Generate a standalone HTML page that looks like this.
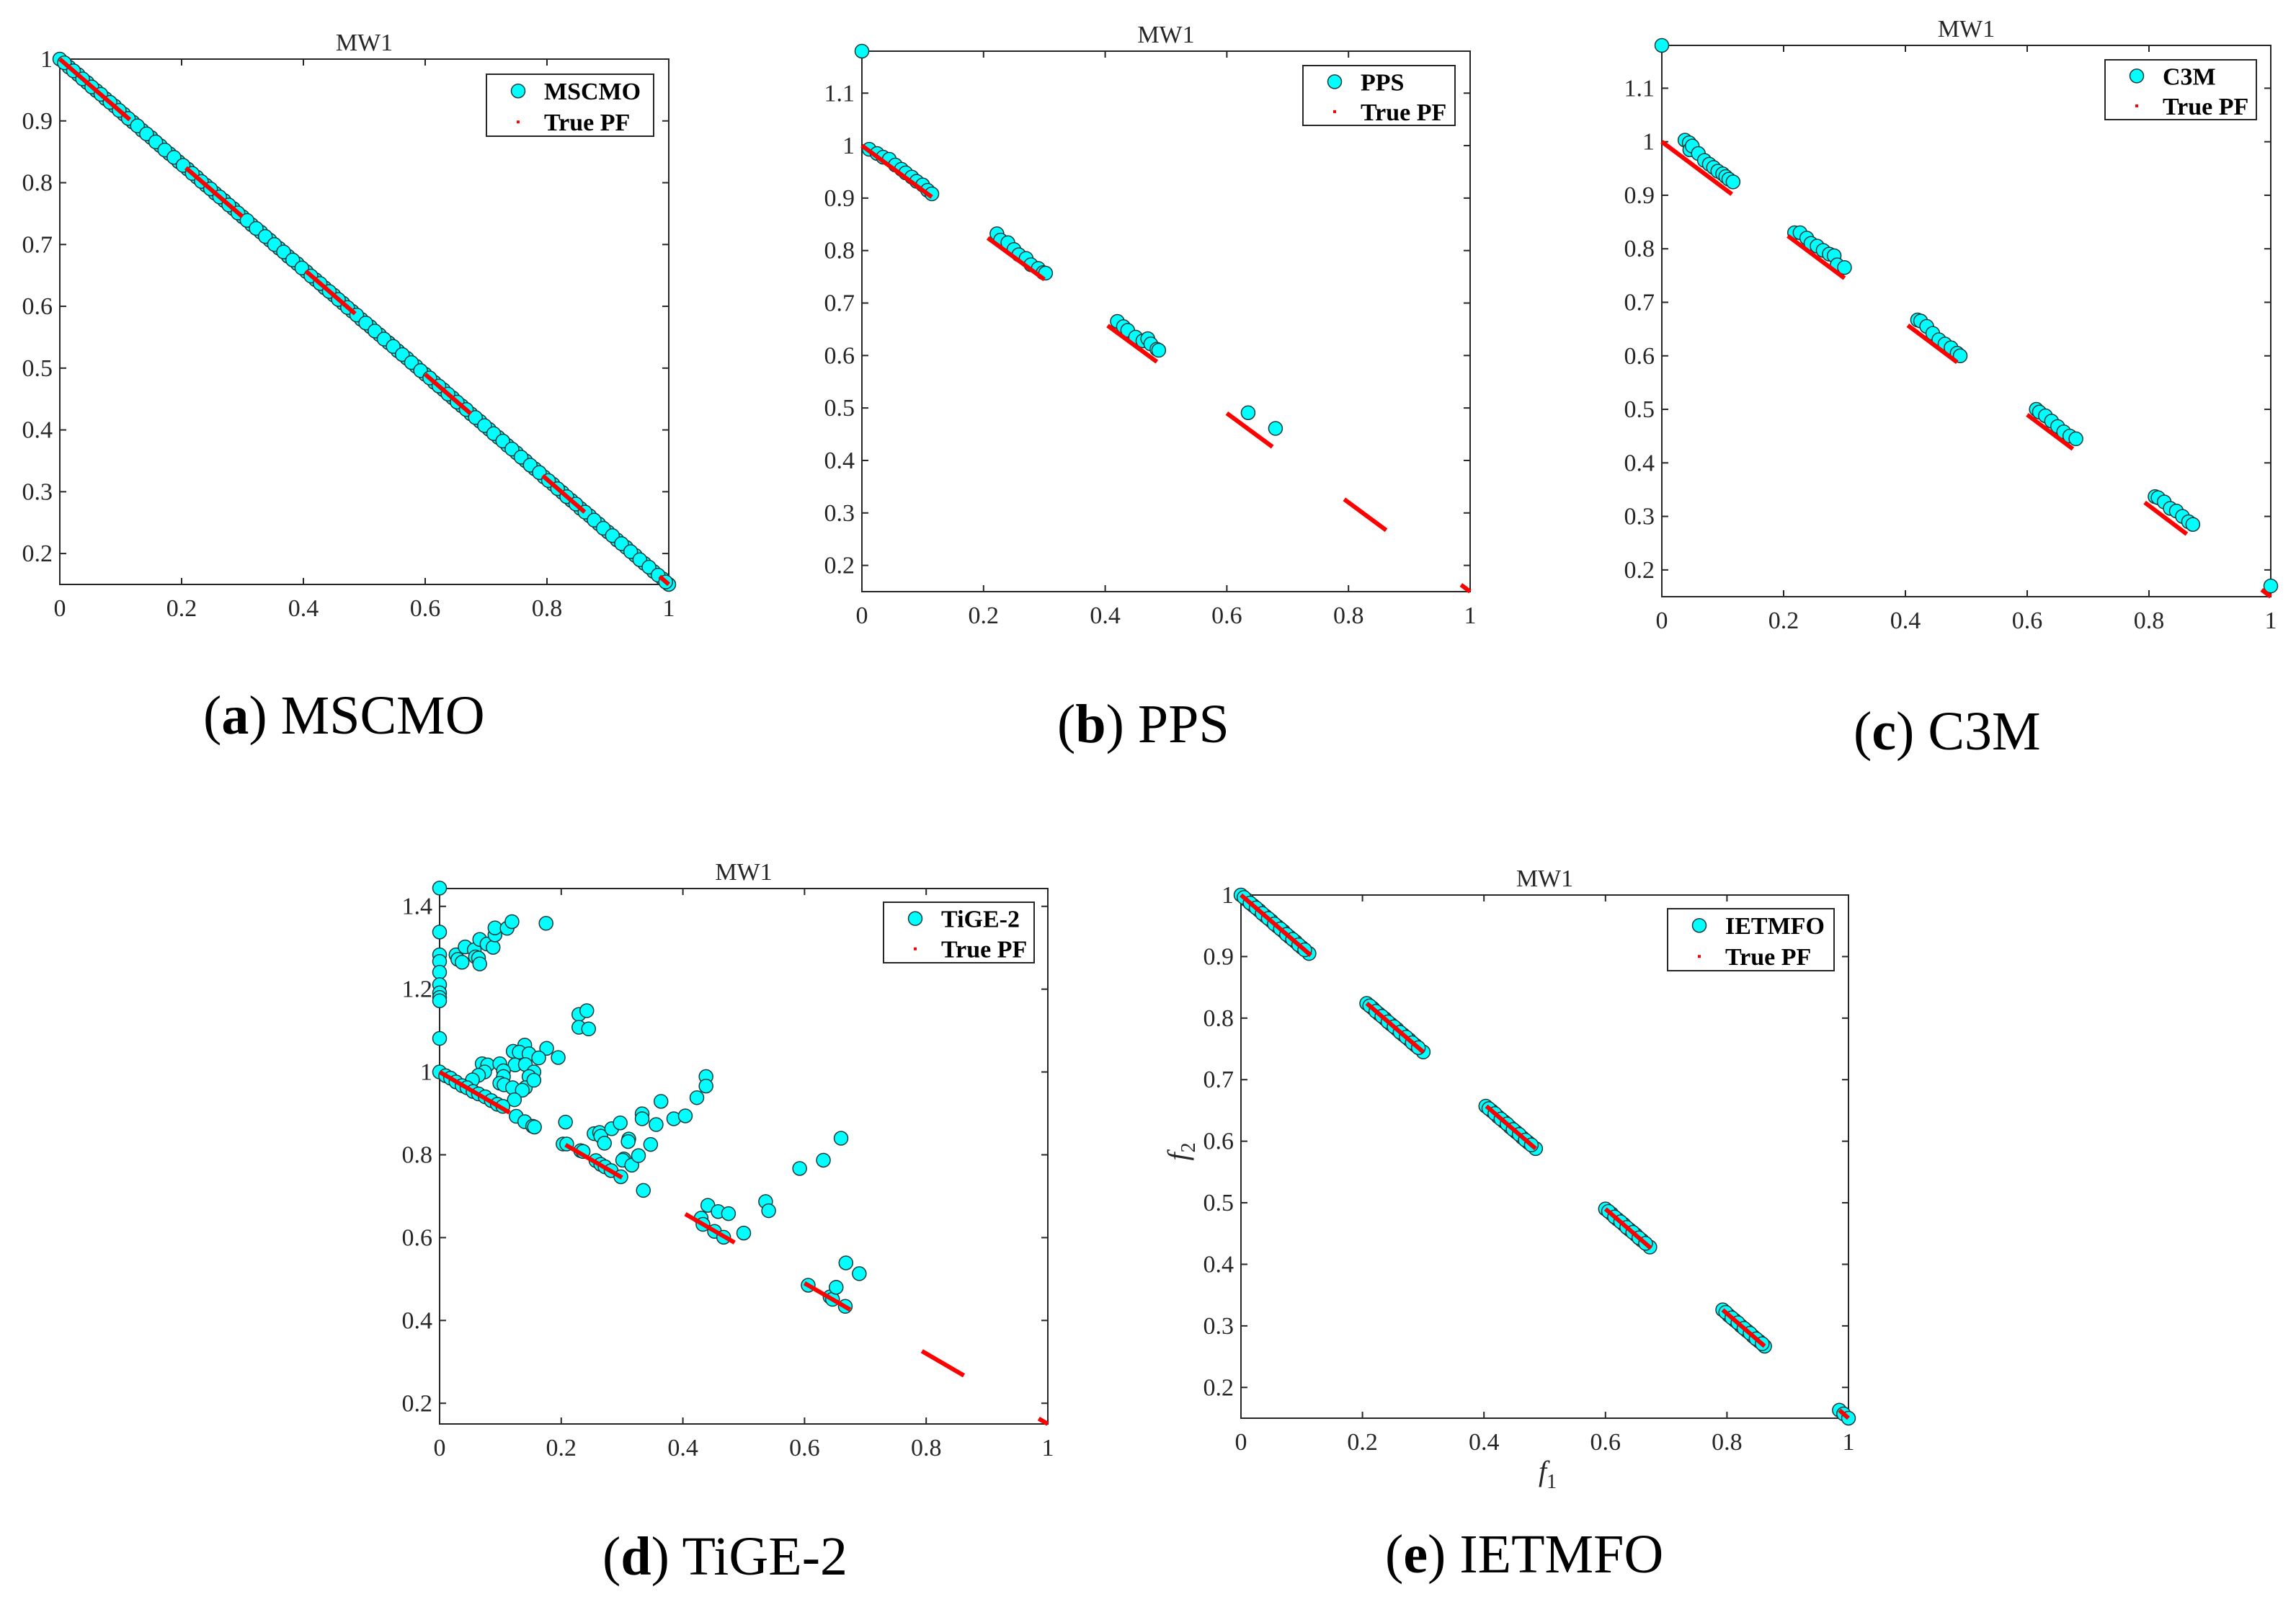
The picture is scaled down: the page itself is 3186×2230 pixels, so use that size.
<!DOCTYPE html>
<html><head><meta charset="utf-8"><style>
html,body{margin:0;padding:0;background:#fff}
svg{display:block}
text{font-family:"Liberation Serif",serif}
</style></head><body>
<svg id="fig" width="3186" height="2230" viewBox="0 0 3186 2230" xmlns="http://www.w3.org/2000/svg">
<rect x="0" y="0" width="3186" height="2230" fill="#fff"/>
<text x="282" y="1018" font-size="76" fill="#000">(<tspan font-weight="bold">a</tspan>) MSCMO</text>
<text x="1467" y="1030" font-size="76" fill="#000">(<tspan font-weight="bold">b</tspan>) PPS</text>
<text x="2572" y="1040" font-size="76" fill="#000">(<tspan font-weight="bold">c</tspan>) C3M</text>
<text x="836" y="2185" font-size="76" fill="#000">(<tspan font-weight="bold">d</tspan>) TiGE-2</text>
<text x="1922" y="2182" font-size="76" fill="#000">(<tspan font-weight="bold">e</tspan>) IETMFO</text>
<text x="2135" y="2055" font-size="40" font-style="italic" fill="#262626">f<tspan font-size="28" font-style="normal" dy="10">1</tspan></text>
<text transform="translate(1648,1598) rotate(-90)" font-size="40" font-style="italic" fill="#262626" text-anchor="middle">f<tspan font-size="28" font-style="normal" dy="10">2</tspan></text>
</svg>
<script>
// True Pareto front segments (f1 start, f1 end, f2 start, f2 end)
const pfX0 = [0, 0.207, 0.404, 0.6, 0.793, 0.985];
const pfX1 = [0.115, 0.3, 0.485, 0.675, 0.862, 1.0];
const pfY0 = [1.0, 0.824, 0.657, 0.49, 0.326, 0.163];
const pfY1 = [0.902, 0.745, 0.588, 0.426, 0.267, 0.15];

const xTicks = [0, 0.2, 0.4, 0.6, 0.8, 1];
const xTickLabels = ["0", "0.2", "0.4", "0.6", "0.8", "1"];
const yTicksA = [0.2, 0.3, 0.4, 0.5, 0.6, 0.7, 0.8, 0.9, 1];
const yTicksB = [0.2, 0.3, 0.4, 0.5, 0.6, 0.7, 0.8, 0.9, 1, 1.1];
const yTicksD = [0.2, 0.4, 0.6, 0.8, 1, 1.2, 1.4];

// (a) MSCMO
const aX = [0,.015,.03,.045,.06,.075,.09,.105,.12,.135,.15,.165,.18,.195,.21,.225,.24,.255,.27,.285,.30,.315,.33,.345,.36,.375,.39,.405,.42,.435,.45,.465,.48,.495,.51,.525,.54,.555,.57,.585,.60,.615,.63,.645,.66,.675,.69,.705,.72,.735,.75,.765,.78,.795,.81,.825,.84,.855,.87,.885,.90,.915,.93,.945,.96,.975,.99,1.0,
.0075,.0225,.0375,.0525,.0675,.0825,.0975,.1125,.1275,.1425,.1575,.1725,.1875,.2025,.2175,.2325,.2475,.2625,.2775,.2925,.3075,.3225,.3375,.3525,.3675,.3825,.3975,.4125,.4275,.4425,.4575,.4725,.4875,.5025,.5175,.5325,.5475,.5625,.5775,.5925,.6075,.6225,.6375,.6525,.6675,.6825,.6975,.7125,.7275,.7425,.7575,.7725,.7875,.8025,.8175,.8325,.8475,.8625,.8775,.8925,.9075,.9225,.9375,.9525,.9675,.9825,.995];
const aY = [1.0,.987,.975,.962,.949,.936,.924,.911,.898,.885,.873,.860,.847,.834,.822,.809,.796,.783,.771,.758,.745,.732,.720,.707,.694,.681,.669,.656,.643,.630,.618,.605,.592,.579,.567,.554,.541,.528,.516,.503,.490,.477,.465,.452,.439,.426,.414,.401,.388,.375,.363,.350,.337,.324,.312,.299,.286,.273,.261,.248,.235,.222,.210,.197,.184,.171,.159,.150,
.994,.981,.968,.955,.943,.930,.917,.904,.892,.879,.866,.853,.841,.828,.815,.802,.790,.777,.764,.751,.739,.726,.713,.700,.688,.675,.662,.649,.637,.624,.611,.598,.586,.573,.560,.547,.535,.522,.509,.496,.484,.471,.458,.445,.433,.420,.407,.394,.382,.369,.356,.343,.331,.318,.305,.292,.280,.267,.254,.241,.229,.216,.203,.190,.178,.165,.154];
// (b) PPS
const bX = [0,.012,.025,.035,.045,.055,.065,.072,.082,.09,.1,.108,.115,.222,.228,.24,.25,.258,.27,.278,.29,.298,.302,.42,.43,.437,.45,.462,.47,.475,.485,.488,.635,.68];
const bY = [1.18,.993,.985,.978,.974,.963,.955,.948,.94,.932,.925,.915,.908,.832,.82,.815,.802,.792,.785,.773,.766,.758,.757,.665,.655,.648,.635,.628,.632,.622,.612,.61,.491,.461];
// (c) C3M
const cX = [0,.038,.045,.046,.05,.06,.07,.078,.085,.092,.1,.105,.11,.117,.218,.227,.238,.245,.255,.265,.275,.283,.288,.3,.42,.425,.435,.445,.455,.465,.475,.485,.49,.615,.62,.63,.64,.65,.66,.67,.68,.81,.815,.825,.835,.845,.855,.865,.872,1.0];
const cY = [1.18,1.003,.998,.985,.992,.978,.965,.958,.952,.945,.94,.935,.93,.925,.83,.83,.82,.81,.805,.797,.79,.787,.77,.765,.667,.665,.655,.642,.63,.622,.615,.605,.6,.5,.495,.488,.478,.468,.458,.45,.445,.337,.335,.327,.315,.31,.3,.29,.285,.17];
// (d) TiGE-2
const dX = [0,0,0,0,0,0,0,0,0,0,0,.027,.03,.037,.042,.057,.059,.064,.066,.066,.078,.088,.091,.091,.111,.119,.175,.229,.242,.229,.245,.14,.121,.131,.147,.176,.163,.195,.07,.079,.099,.124,.141,.074,.105,.155,.105,.147,.064,.054,.099,.106,.12,.141,.136,.155,.123,.126,.14,.153,.156,.01,.018,.027,.037,.045,.055,.064,.075,.085,.095,.104,.207,.203,.209,.232,.236,.257,.265,.272,.282,.298,.254,.263,.265,.271,.283,.297,.303,.301,.311,.31,.316,.327,.333,.333,.335,.347,.356,.364,.385,.404,.423,.438,.438,.43,.433,.441,.452,.458,.467,.475,.5,.536,.541,.592,.631,.66,.606,.642,.646,.652,.667,.668,.69];
const dY = [1.444,1.338,1.283,1.267,1.241,1.211,1.191,1.18,1.172,1.081,1.0,1.283,1.272,1.265,1.302,1.295,1.278,1.275,1.261,1.32,1.309,1.301,1.331,1.348,1.347,1.363,1.359,1.139,1.148,1.108,1.104,1.065,1.05,1.048,1.044,1.057,1.034,1.035,1.02,1.017,1.02,1.017,1.018,1.0,1.003,1.0,.989,.989,.992,.981,.973,.969,.962,.962,.956,.98,.933,.893,.88,.869,.867,.991,.985,.976,.967,.962,.953,.947,.94,.931,.922,.917,.879,.826,.826,.81,.808,.786,.777,.771,.762,.747,.851,.854,.845,.828,.863,.877,.79,.787,.838,.832,.775,.798,.899,.887,.714,.825,.873,.929,.887,.894,.938,.989,.966,.647,.632,.678,.615,.663,.601,.658,.611,.687,.665,.767,.787,.84,.485,.457,.451,.48,.434,.539,.513];
// (e) IETMFO
const eX = [0,.01,.02,.03,.04,.05,.06,.07,.08,.09,.1,.112,.207,.217,.227,.237,.247,.257,.267,.277,.287,.3,.403,.413,.423,.433,.443,.453,.463,.473,.485,.6,.61,.62,.63,.64,.65,.66,.673,.793,.803,.813,.823,.833,.843,.853,.862,.985,.992,1.0,
.005,.015,.025,.035,.045,.055,.065,.075,.085,.095,.105,.212,.222,.232,.242,.252,.262,.272,.282,.292,.408,.418,.428,.438,.448,.458,.468,.478,.605,.615,.625,.635,.645,.655,.666,.798,.808,.818,.828,.838,.848,.858];
const eY = [1.0,.992,.983,.975,.966,.958,.949,.941,.932,.924,.915,.905,.824,.816,.807,.799,.79,.782,.773,.765,.756,.745,.657,.649,.64,.632,.623,.615,.606,.598,.588,.49,.482,.473,.465,.456,.448,.439,.428,.326,.317,.309,.3,.292,.283,.275,.267,.163,.157,.15,
.996,.987,.979,.970,.962,.953,.945,.936,.928,.919,.911,.820,.811,.803,.794,.786,.777,.769,.760,.752,.653,.645,.636,.628,.619,.611,.602,.594,.486,.477,.469,.460,.452,.443,.434,.322,.313,.305,.296,.288,.279,.271];

const NS = "http://www.w3.org/2000/svg";
const svg = document.getElementById('fig');
function mk(tag, attrs, parent) {
  const e = document.createElementNS(NS, tag);
  for (const k in attrs) e.setAttribute(k, attrs[k]);
  (parent || svg).appendChild(e);
  return e;
}

function panel(id, L, R, T, B, ymin, ymax, yTicks, xs, ys, name, lg) {
  const g = mk('g', {});
  
  
  const sx = v => L + (v - 0) * (R - L);
  const sy = v => B - (v - ymin) / (ymax - ymin) * (B - T);
  const ax = mk('rect', {x: L, y: T, width: R - L, height: B - T, fill: 'none', stroke: '#262626', 'stroke-width': 2}, g);
  
  
  const title = mk('text', {x: (L + R) / 2, y: T - 12, 'font-size': 34, 'text-anchor': 'middle', fill: '#262626'}, g);
  title.textContent = 'MW1';
  
  
  xTicks.forEach((t, i) => {
    const x = sx(t);
    mk('line', {x1: x, y1: B, x2: x, y2: B - 9, stroke: '#262626', 'stroke-width': 2}, g);
    mk('line', {x1: x, y1: T, x2: x, y2: T + 9, stroke: '#262626', 'stroke-width': 2}, g);
    const tl = mk('text', {x: x, y: B + 44, 'font-size': 34, 'text-anchor': 'middle', fill: '#262626'}, g);
    tl.textContent = xTickLabels[i];
    
    
  });
  yTicks.forEach(t => {
    const y = sy(t);
    mk('line', {x1: L, y1: y, x2: L + 9, y2: y, stroke: '#262626', 'stroke-width': 2}, g);
    mk('line', {x1: R, y1: y, x2: R - 9, y2: y, stroke: '#262626', 'stroke-width': 2}, g);
    const tl = mk('text', {x: L - 10, y: y + 11, 'font-size': 34, 'text-anchor': 'end', fill: '#262626'}, g);
    tl.textContent = String(+t.toFixed(1));
    
    
  });
  xs.forEach((v, i) => {
    const c = mk('circle', {cx: sx(v), cy: sy(ys[i]), r: 9.5, fill: '#00FFFF', stroke: '#1a3a3a', 'stroke-width': 1.5}, g);
    
    
  });
  pfX0.forEach((v, i) => {
    const l = mk('line', {x1: sx(v), y1: sy(pfY0[i]), x2: sx(pfX1[i]), y2: sy(pfY1[i]), stroke: '#ff0000', 'stroke-width': 6}, g);
    
    
  });
  const lgG = mk('g', {}, g);
  
  
  mk('rect', {x: lg[0], y: lg[1], width: lg[2] - lg[0], height: lg[3] - lg[1], fill: '#fff', stroke: '#262626', 'stroke-width': 2}, lgG);
  const h = lg[3] - lg[1];
  const r1 = lg[1] + h * 0.27, r2 = lg[1] + h * 0.77;
  mk('circle', {cx: lg[0] + 44, cy: r1, r: 9.5, fill: '#00FFFF', stroke: '#1a3a3a', 'stroke-width': 1.5}, lgG);
  mk('rect', {x: lg[0] + 42, y: r2 - 2, width: 4, height: 4, fill: '#ff0000'}, lgG);
  const t1 = mk('text', {x: lg[0] + 80, y: r1 + 12, 'font-size': 34, 'font-weight': 'bold', fill: '#000'}, lgG);
  t1.textContent = name;
  
  
  const t2 = mk('text', {x: lg[0] + 80, y: r2 + 12, 'font-size': 34, 'font-weight': 'bold', fill: '#000'}, lgG);
  t2.textContent = 'True PF';
  
  
}

panel('a', 83, 928, 82, 811, 0.15, 1.0, yTicksA, aX, aY, 'MSCMO', [675, 103, 907, 189]);
panel('b', 1196, 2040, 71, 821, 0.15, 1.18, yTicksB, bX, bY, 'PPS', [1808, 91, 2019, 174]);
panel('c', 2306, 3151, 63, 828, 0.15, 1.18, yTicksB, cX, cY, 'C3M', [2921, 83, 3131, 166]);
panel('d', 610, 1454, 1233, 1976, 0.15, 1.443, yTicksD, dX, dY, 'TiGE-2', [1226, 1252, 1435, 1336]);
panel('e', 1722, 2565, 1242, 1968, 0.15, 1.0, yTicksA, eX, eY, 'IETMFO', [2314, 1261, 2545, 1347]);
</script>
</body></html>
